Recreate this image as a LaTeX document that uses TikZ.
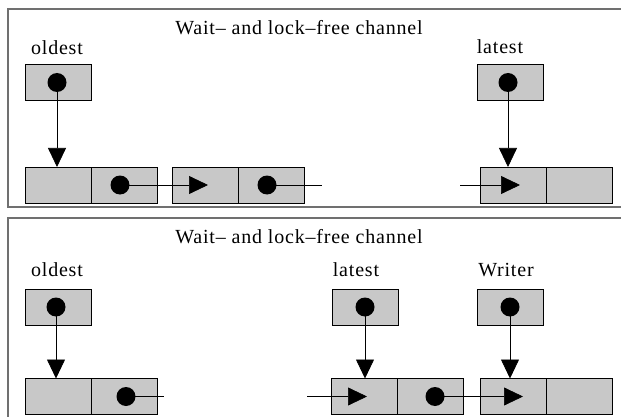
\documentclass[tikz,border=0pt]{standalone}
\usepackage{fontspec}
\setmainfont{Liberation Serif}[LetterSpace=4.0]
\usetikzlibrary{arrows.meta}
\definecolor{cellgray}{HTML}{C8C8C8}
\definecolor{framegray}{HTML}{707070}
\tikzset{
  cell/.style={draw=black, line width=0.9pt, fill=cellgray, minimum width=66pt, minimum height=36pt, inner sep=0pt, outer sep=0pt},
  ptr/.style={circle, fill=black, minimum size=19pt, inner sep=0pt, outer sep=0pt},
  lbl/.style={font=\fontsize{20}{24}\selectfont, inner sep=0pt},
  panel/.style={draw=framegray, line width=1.8pt},
  link/.style={draw=black, line width=0.7pt, -{Triangle[length=19pt,width=18pt]}},
  tail/.style={draw=black, line width=0.7pt}
}
\begin{document}
\begin{tikzpicture}[x=1pt, y=-1pt]
\useasboundingbox (0,0) rectangle (621,417);
\clip (0,0) rectangle (621,417);

% ---------- upper panel ----------
\draw[panel] (8,9) rectangle (640,207);
\node[lbl] (t1) at (299,28) {Wait– and lock–free channel};
\node[lbl] (o1) at (57,48) {oldest};
\node[lbl] (l1) at (500,47) {latest};

\node[cell] (ob1) at (58,82.5) {};
\node[ptr]  (od1) at (57,82.5) {};
\node[cell] (lb1) at (510.5,82.5) {};
\node[ptr]  (ld1) at (508,82.5) {};

\node[cell] (a1) at (58,185) {};
\node[cell] (a2) at (124,185) {};
\node[ptr]  (a2d) at (120,185) {};
\node[cell] (b1) at (205,185) {};
\node[cell] (b2) at (271,185) {};
\node[ptr]  (b2d) at (267,185) {};
\node[cell] (c1) at (513,185) {};
\node[cell] (c2) at (579,185) {};

\coordinate (b1tip) at (208,185);
\coordinate (b2end) at (322,185);
\coordinate (c1in) at (460,185);
\coordinate (c1tip) at (520,185);

\draw[link] (od1.center) -- (od1.center |- a1.north);
\draw[link] (ld1.center) -- (ld1.center |- c1.north);
\draw[link] (a2d.center) -- (b1tip);
\draw[tail] (b2d.center) -- (b2end);
\draw[link] (c1in) -- (c1tip);

% ---------- lower panel ----------
\draw[panel] (8,218) rectangle (640,440);
\node[lbl] (t2) at (299,237) {Wait– and lock–free channel};
\node[lbl] (o2) at (57,270) {oldest};
\node[lbl] (l2) at (356,270) {latest};
\node[lbl] (w2) at (506,270) {Writer};

\node[cell] (ob2) at (58,307) {};
\node[ptr]  (od2) at (56,307) {};
\node[cell] (lb2) at (365.5,307) {};
\node[ptr]  (ld2) at (365,307) {};
\node[cell] (wb2) at (510.5,307) {};
\node[ptr]  (wd2) at (510,307) {};

\node[cell] (d1) at (58,396.5) {};
\node[cell] (d2) at (124,396.5) {};
\node[ptr]  (d2d) at (126,396.5) {};
\node[cell] (e1) at (364,396.5) {};
\node[cell] (e2) at (430,396.5) {};
\node[ptr]  (e2d) at (435,396.5) {};
\node[cell] (f1) at (513,396.5) {};
\node[cell] (f2) at (579,396.5) {};

\coordinate (d2end) at (164,396.5);
\coordinate (e1in) at (307,396.5);
\coordinate (e1tip) at (367,396.5);
\coordinate (f1tip) at (523,396.5);

\draw[link] (od2.center) -- (od2.center |- d1.north);
\draw[link] (ld2.center) -- (ld2.center |- e1.north);
\draw[link] (wd2.center) -- (wd2.center |- f1.north);
\draw[tail] (d2d.center) -- (d2end);
\draw[link] (e1in) -- (e1tip);
\draw[link] (e2d.center) -- (f1tip);
\end{tikzpicture}
\end{document}
